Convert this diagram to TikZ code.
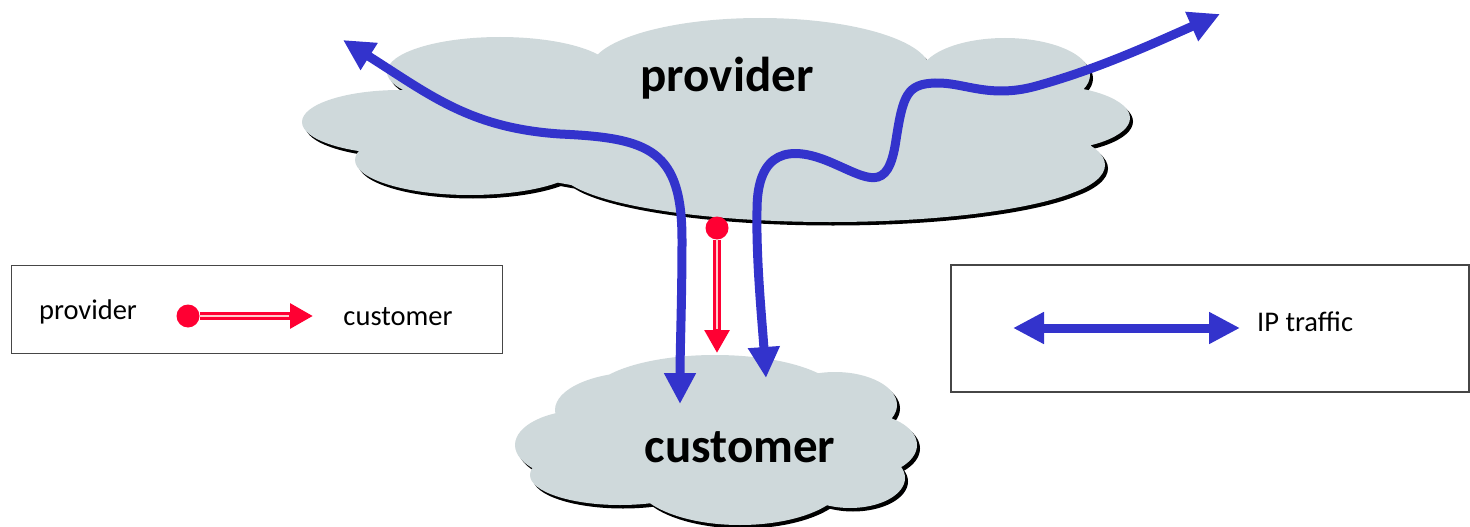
\documentclass[tikz,border=0pt]{standalone}
\usepackage{fontspec}
\setmainfont{Carlito}
\usetikzlibrary{arrows.meta}
\definecolor{cloudgray}{RGB}{207,217,219}
\definecolor{ipblue}{RGB}{51,51,204}
\definecolor{pcred}{RGB}{255,0,51}
\definecolor{boxgray}{RGB}{70,70,70}
\newcommand\provcloudpath{
  (400,122) ellipse[x radius=98,y radius=32]
  (500,72) ellipse[x radius=113,y radius=35]
  (760,70) ellipse[x radius=170,y radius=52]
  (1005,75) ellipse[x radius=85,y radius=37]
  (1040,118) ellipse[x radius=90,y radius=33]
  (990,165) ellipse[x radius=115,y radius=40]
  (830,170) ellipse[x radius=270,y radius=52]
  (470,160) ellipse[x radius=115,y radius=35]
  (700,125) ellipse[x radius=250,y radius=70]
  (955,105) ellipse[x radius=50,y radius=28]
  (420,100) ellipse[x radius=25,y radius=10]
}
\newcommand\custcloudpath{
  (640,410) ellipse[x radius=85,y radius=38]
  (715,397) ellipse[x radius=125,y radius=42]
  (835,405) ellipse[x radius=62,y radius=33]
  (585,445) ellipse[x radius=70,y radius=35]
  (620,475) ellipse[x radius=90,y radius=30]
  (740,480) ellipse[x radius=105,y radius=45]
  (860,445) ellipse[x radius=57,y radius=32]
  (850,478) ellipse[x radius=55,y radius=30]
  (720,445) ellipse[x radius=160,y radius=55]
}
\tikzset{
  ip/.style={draw=ipblue, line width=9pt},
  ipboth/.style={{Triangle[length=31pt,width=30pt]}-{Triangle[length=31pt,width=30pt]}},
  pcdot/.style={circle, fill=pcred, minimum size=23pt, inner sep=0pt},
  pcarrow/.style={draw=pcred, line width=8pt, -{Triangle[length=23pt,width=24pt]}},
  pcinner/.style={draw=red!20, line width=1.8pt, shorten >=24pt},
  legendbox/.style={draw=boxgray, line width=1.3pt},
  bigtext/.style={font=\fontsize{49}{55}\selectfont\bfseries, inner sep=0pt, anchor=base},
  smalltext/.style={font=\fontsize{28.5}{32}\selectfont, inner sep=0pt, anchor=base},
}
\begin{document}
\begin{tikzpicture}[x=1pt,y=-1pt]
\useasboundingbox (0,0) rectangle (1470,527);
% clouds
\fill[black, shift={(3,3.5)}] \provcloudpath;
\fill[cloudgray] \provcloudpath;
\fill[black, shift={(3,3.5)}] \custcloudpath;
\fill[cloudgray] \custcloudpath;
\node[bigtext] (provider) at (727,92) {provider};
\node[bigtext] (customer) at (740,462) {customer};
% legend boxes
\node[legendbox, minimum width=491pt, minimum height=88pt, inner sep=0pt] (lbox) at (257,309.5) {};
\node[legendbox, minimum width=518pt, minimum height=127pt, inner sep=0pt] (rbox) at (1210,328.5) {};
\node[smalltext] (lprov) at (88,319) {provider};
\node[smalltext] (lcust) at (398,325) {customer};
\node[smalltext, anchor=base west] (lip) at (1257,331) {IP traffic};
% legend arrows
\node[pcdot] (ldot) at (188,316) {};
\coordinate (ltip) at (313,316);
\draw[pcarrow] (ldot) -- (ltip);
\draw[pcinner] (ldot) -- (ltip);
\coordinate (ipl) at (1013,328);
\coordinate (ipr) at (1240,328);
\draw[ip, ipboth] (ipl) -- (ipr);
% IP traffic paths
\coordinate (a1) at (343,40);
\coordinate (a2) at (680,404);
\draw[ip, ipboth] (a1) .. controls (430,95) and (470,128) .. (560,134)
  .. controls (650,138) and (682,150) .. (682,240)
  .. controls (682,300) and (680,350) .. (a2);
\coordinate (b1) at (766,378);
\coordinate (b2) at (1220,14);
\draw[ip, ipboth] (b1) .. controls (762,320) and (756,260) .. (757,210)
  .. controls (757,150) and (790,145) .. (830,162)
  .. controls (868,178) and (888,195) .. (896,140)
  .. controls (903,95) and (907,84) .. (935,83)
  .. controls (965,82) and (990,100) .. (1040,85)
  .. controls (1100,68) and (1150,45) .. (b2);
% provider-customer link
\node[pcdot] (pdot) at (717,228) {};
\coordinate (ptip) at (717,353);
\draw[pcarrow] (pdot) -- (ptip);
\draw[pcinner] (pdot) -- (ptip);
\end{tikzpicture}
\end{document}
